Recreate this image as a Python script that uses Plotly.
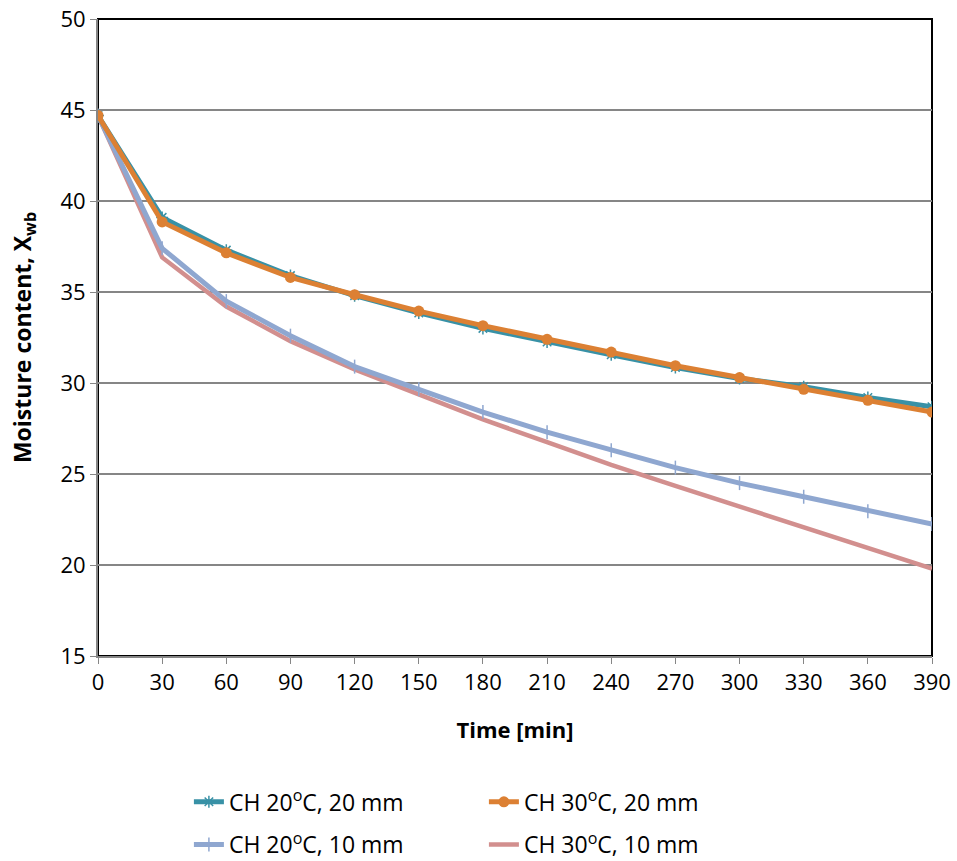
import plotly.graph_objects as go

time_min = [0, 30, 60, 90, 120, 150, 180, 210, 240, 270, 300, 330, 360, 390]
ch20_20 = [44.7, 39.1, 37.3, 35.9, 34.8, 33.85, 33.0, 32.25, 31.55, 30.85, 30.25, 29.8, 29.2, 28.7]
ch30_20 = [44.7, 38.85, 37.15, 35.8, 34.85, 33.95, 33.15, 32.4, 31.7, 30.95, 30.3, 29.65, 29.05, 28.4]
ch20_10 = [44.7, 37.4, 34.5, 32.6, 30.9, 29.65, 28.4, 27.3, 26.3, 25.35, 24.5, 23.75, 22.95, 22.25]
ch30_10 = [44.7, 36.9, 34.2, 32.3, 30.75, 29.4, 28.0, 26.75, 25.5, 24.35, 23.2, 22.05, 20.9, 19.8]

names = ["CH 20<sup>o</sup>C, 20 mm", "CH 30<sup>o</sup>C, 20 mm",
         "CH 20<sup>o</sup>C, 10 mm", "CH 30<sup>o</sup>C, 10 mm"]
x_ticks = [0, 30, 60, 90, 120, 150, 180, 210, 240, 270, 300, 330, 360, 390]
y_ticks = [15, 20, 25, 30, 35, 40, 45, 50]

FONT = "'Open Sans', sans-serif"

fig = go.Figure()
fig.add_trace(go.Scatter(x=time_min, y=ch30_10, name=names[3], mode="lines", legend="legend2",
                         line=dict(color="#D28F8E", width=4.5)))
fig.add_trace(go.Scatter(x=time_min, y=ch20_10, name=names[2], mode="lines+markers", legend="legend2",
                         line=dict(color="#8FA7D0", width=5),
                         marker=dict(symbol="line-ns-open", size=10, color="#8FA7D0",
                                     line=dict(color="#8FA7D0", width=1.5))))
fig.add_trace(go.Scatter(x=time_min, y=ch20_20, name=names[0], mode="lines+markers", legend="legend",
                         line=dict(color="#3891A6", width=5),
                         marker=dict(symbol="asterisk-open", size=10, color="#3891A6",
                                     line=dict(color="#3891A6", width=1.5))))
fig.add_trace(go.Scatter(x=time_min, y=ch30_20, name=names[1], mode="lines+markers", legend="legend",
                         line=dict(color="#DC8033", width=5),
                         marker=dict(symbol="circle", size=11, color="#DC8033")))

for tr in fig.data:
    tr.legendrank = names.index(tr.name) + 1

leg_common = dict(orientation="h", x=0.109, xanchor="left", yanchor="middle",
                  entrywidth=250, entrywidthmode="pixels", traceorder="normal",
                  font=dict(size=23, family=FONT), bgcolor="rgba(0,0,0,0)")

fig.update_layout(
    width=957, height=861,
    margin=dict(l=98, r=25, t=19, b=205, autoexpand=False),
    paper_bgcolor="white", plot_bgcolor="white",
    font=dict(family=FONT, size=22, color="black"),
    showlegend=True,
    legend=dict(y=-0.229, **leg_common),
    legend2=dict(y=-0.296, **leg_common),
    xaxis=dict(range=[0, 390], tickvals=x_ticks, ticks="outside", ticklen=6,
               tickcolor="#868686", showline=True, linecolor="#868686", linewidth=2,
               showgrid=False, zeroline=False, ticklabeloverflow="allow",
               title=dict(text="<b>Time [min]</b>", font=dict(size=22), standoff=27),
               tickfont=dict(size=22)),
    yaxis=dict(range=[15, 50], tickvals=y_ticks, ticks="outside", ticklen=6,
               tickcolor="#868686", showline=True, linecolor="#868686", linewidth=2,
               showgrid=True, gridcolor="#868686", gridwidth=2, zeroline=False,
               ticklabeloverflow="allow",
               title=dict(text="<b>Moisture content, X<sub>wb</sub></b>", font=dict(size=23), standoff=22),
               tickfont=dict(size=22)),
)

fig.add_shape(type="rect", xref="paper", yref="paper", x0=0, x1=1, y0=0, y1=1,
              line=dict(color="black", width=2), layer="between")

fig.write_html("out.html", config={"displayModeBar": False},
               post_script="document.body.style.margin='0px';")
